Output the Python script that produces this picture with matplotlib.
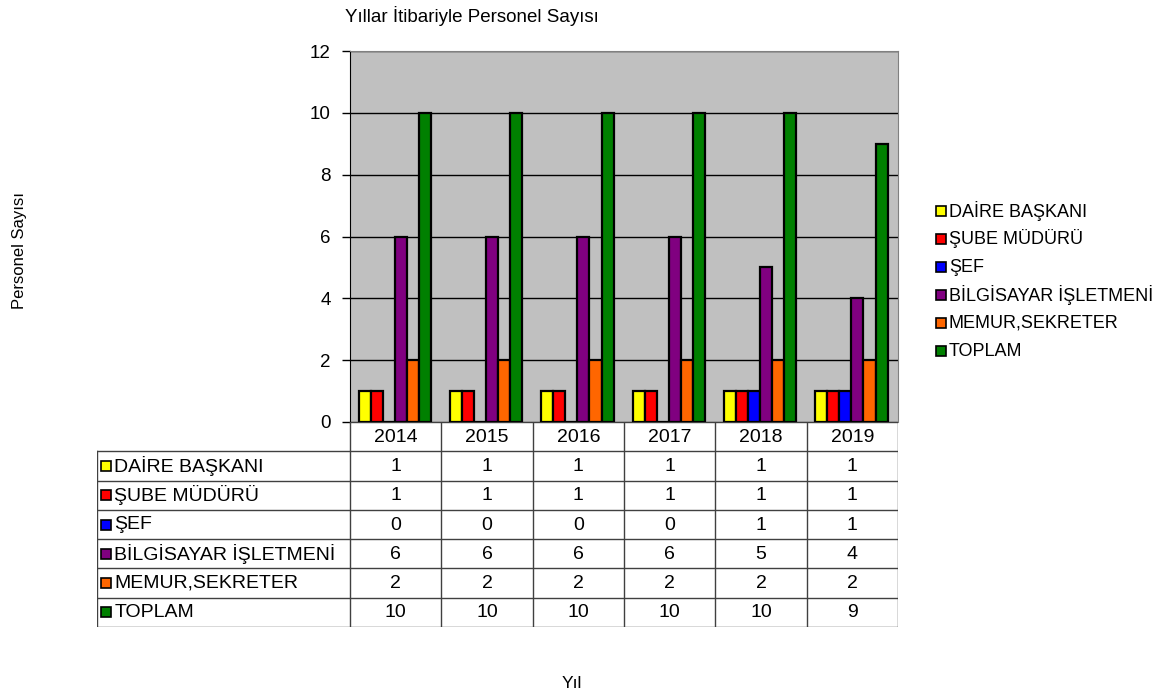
import matplotlib
matplotlib.use("Agg")
import matplotlib.pyplot as plt
import numpy as np

plt.rcParams["font.family"] = ["Liberation Sans", "DejaVu Sans"]

YEARS = ["2014", "2015", "2016", "2017", "2018", "2019"]
SERIES = ["DAİRE BAŞKANI", "ŞUBE MÜDÜRÜ", "ŞEF", "BİLGİSAYAR İŞLETMENİ",
          "MEMUR,SEKRETER", "TOPLAM"]
DAIRE = [1, 1, 1, 1, 1, 1]
SUBE = [1, 1, 1, 1, 1, 1]
SEF = [0, 0, 0, 0, 1, 1]
BILGISAYAR = [6, 6, 6, 6, 5, 4]
MEMUR = [2, 2, 2, 2, 2, 2]
TOPLAM = [10, 10, 10, 10, 10, 9]
VALUES = [DAIRE, SUBE, SEF, BILGISAYAR, MEMUR, TOPLAM]
COLORS = ["#FFFF00", "#FF0000", "#0000FF", "#800080", "#FF6600", "#008000"]

W, H = 1166, 700
fig = plt.figure(figsize=(W / 100, H / 100), dpi=100)


def frac(left, top, right, bottom):
    return [left / W, 1 - bottom / H, (right - left) / W, (bottom - top) / H]


# === main bar axes ===
ax = fig.add_axes(frac(350, 51, 898, 422))
ax.set_facecolor("#C0C0C0")
x = np.arange(len(YEARS))
bw = 0.132
for i, (vals, col) in enumerate(zip(VALUES, COLORS)):
    off = (i - 2.5) * bw - 0.01
    ax.bar(x + off, vals, bw, color=col, edgecolor="black", linewidth=1.6,
           zorder=3)
ax.set_xlim(-0.5, len(YEARS) - 0.5)
ax.set_ylim(0, 12)
ax.set_yticks(range(0, 13, 2))
ax.set_xticks([])
ax.yaxis.grid(True, color="black", linewidth=1.0, zorder=1)
ax.tick_params(axis="y", labelsize=13.5, length=6, width=1, direction="out",
               pad=8, color="black")
for s in ["top", "right"]:
    ax.spines[s].set_color("#808080")
ax.spines["left"].set_color("black")
ax.spines["bottom"].set_visible(False)

# === data table below ===
tab = fig.add_axes(frac(97, 422, 898, 627))
lab_w = (350 - 97) / (548 / len(YEARS))
tab.set_xlim(-0.5 - lab_w, len(YEARS) - 0.5)
tab.set_ylim(7, 0)
tab.axis("off")
lc = "#404040"
# horizontal lines
tab.plot([-0.5, len(YEARS) - 0.5], [0, 0], color=lc, lw=1)
for r in range(1, 8):
    tab.plot([-0.5 - lab_w, len(YEARS) - 0.5], [r, r], color=lc, lw=1)
# vertical lines
tab.plot([-0.5 - lab_w, -0.5 - lab_w], [1, 7], color=lc, lw=1)
for c in range(len(YEARS) + 1):
    tab.plot([c - 0.5, c - 0.5], [0, 7], color=lc, lw=1)
for c, yr in enumerate(YEARS):
    tab.text(c, 0.52, yr, ha="center", va="center", fontsize=14)
for r, (name, vals, col) in enumerate(zip(SERIES, VALUES, COLORS)):
    tab.plot(-0.5 - lab_w + 0.1, r + 1.5, marker="s", ms=7, mfc=col,
             mec="black", mew=1.2)
    tab.text(-0.5 - lab_w + 0.19, r + 1.5, name, ha="left", va="center",
             fontsize=14)
    for c, v in enumerate(vals):
        tab.text(c, r + 1.52, str(v), ha="center", va="center", fontsize=14)

# === legend on right ===
for i, (name, col) in enumerate(zip(SERIES, COLORS)):
    yy = 1 - (211 + i * 28) / H
    fig.lines.append(plt.Line2D([941 / W], [yy], marker="s", ms=7, mfc=col,
                                mec="black", mew=1.2,
                                transform=fig.transFigure))
    fig.text(949 / W, yy, name, fontsize=13, ha="left", va="center")

# titles
fig.text(345 / W, 1 - 16 / H, "Yıllar İtibariyle Personel Sayısı",
         fontsize=13.5, ha="left", va="center")
fig.text(20 / W, 1 - 250 / H, "Personel Sayısı", fontsize=12, rotation=90,
         ha="center", va="center")
fig.text(572 / W, 1 - 683 / H, "Yıl", fontsize=12.5, ha="center", va="center")

fig.savefig("out.png", dpi=100, facecolor="white")
